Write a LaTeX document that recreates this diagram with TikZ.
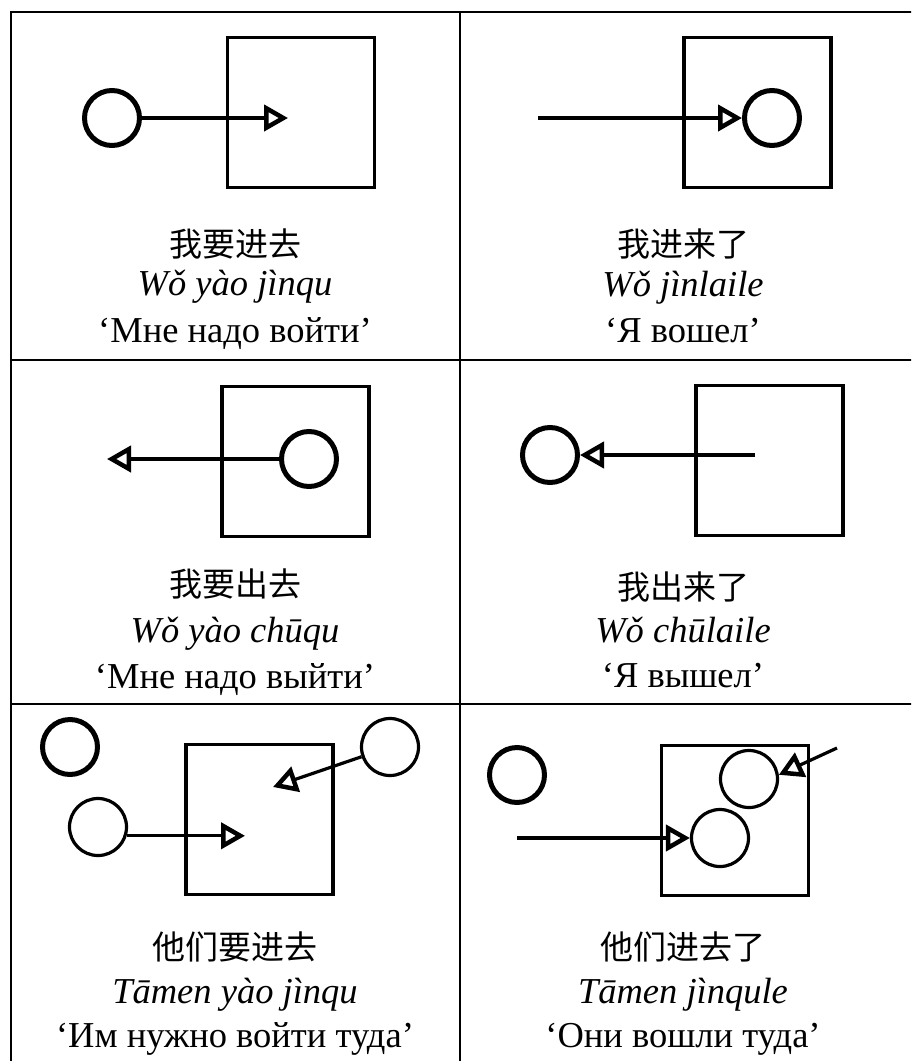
\documentclass[tikz,border=0pt]{standalone}
\usepackage{fontspec}
\setmainfont{Liberation Serif}
\newfontfamily\zhfont{Noto Sans CJK SC}
\usetikzlibrary{arrows.meta}

\begin{document}
\begin{tikzpicture}[x=1pt,y=-1pt,
  grid/.style={line width=2.2pt},
  room/.style={draw, line width=3.2pt, minimum width=147pt, minimum height=150pt, inner sep=0pt},
  man/.style={draw, circle, line width=5pt, minimum size=55pt, inner sep=0pt},
  thinman/.style={draw, circle, line width=3.2pt, minimum size=57pt, inner sep=0pt},
  move/.style={line width=3.2pt, -{Triangle[open, length=24pt, width=26pt, line width=4.5pt]}},
  zh/.style={anchor=base, inner sep=0pt, font=\zhfont\fontsize{33}{38}\selectfont},
  py/.style={anchor=base, inner sep=0pt, font=\itshape\fontsize{36.5}{42}\selectfont},
  ru/.style={anchor=base, inner sep=0pt, font=\fontsize{36.5}{42}\selectfont},
]
\useasboundingbox (0,0) rectangle (911,1061);
\fill[white] (0,0) rectangle (911,1061);
\clip (0,0) rectangle (911,1061);

% table rules
\draw[grid] (11,12) rectangle (925,1075);
\draw[grid] (460,12) -- (460,1075);
\draw[grid] (11,360) -- (925,360);
\draw[grid] (11,704) -- (925,704);

% 1: going in
\node[room] (r1) at (301,112.5) {};
\node[man] (m1) at (112,118) {};
\coordinate (t1) at (288,118);
\draw[move] (m1) -- (t1);
\node[zh] (zh1) at (235,256) {我要进去};
\node[py] (py1) at (235,295) {Wǒ yào jìnqu};
\node[ru] (ru1) at (235,342) {‘Мне надо войти’};

% 2: came in
\node[room] (r2) at (757.5,112.5) {};
\node[man] (m2) at (772,118) {};
\coordinate (s2) at (538,118);
\draw[move] (s2) -- (m2);
\node[zh] (zh2) at (683,256) {我进来了};
\node[py] (py2) at (683,296) {Wǒ jìnlaile};
\node[ru] (ru2) at (683,342) {‘Я вошел’};

% 3: going out
\node[room] (r3) at (295.5,461.5) {};
\node[man] (m3) at (309,459) {};
\coordinate (t3) at (107,459);
\draw[move] (m3) -- (t3);
\node[zh] (zh3) at (235,596) {我要出去};
\node[py] (py3) at (235,642) {Wǒ yào chūqu};
\node[ru] (ru3) at (235,688) {‘Мне надо выйти’};

% 4: came out
\node[room] (r4) at (769.5,460.5) {};
\node[man] (m4) at (550,455) {};
\coordinate (s4) at (755,455);
\draw[move] (s4) -- (m4);
\node[zh] (zh4) at (683,599) {我出来了};
\node[py] (py4) at (683,642) {Wǒ chūlaile};
\node[ru] (ru4) at (683,687) {‘Я вышел’};

% 5: they are going in
\node[room] (r5) at (259.5,819.5) {};
\node[man] (m5a) at (70,747) {};
\node[thinman] (m5b) at (98,827) {};
\node[thinman] (m5c) at (390,747) {};
\coordinate (t5b) at (245,836);
\coordinate (t5c) at (273,787);
\draw[move] (m5b.-17) -- (m5b.-17 -| t5b);
\draw[move] (m5c) -- (t5c);
\node[zh] (zh5) at (235,959) {他们要进去};
\node[py] (py5) at (235,1003) {Tāmen yào jìnqu};
\node[ru] (ru5) at (235,1047) {‘Им нужно войти туда’};

% 6: they went in
\node[room] (r6) at (735,820.5) {};
\node[man] (m6a) at (517,775) {};
\node[thinman] (m6d) at (749,779) {};
\node[thinman] (m6e) at (720,838) {};
\coordinate (s6e) at (517,838);
\coordinate (s6d) at (837,748);
\draw[move] (s6e) -- (m6e);
\draw[move] (s6d) -- (m6d.8);
\node[zh] (zh6) at (683,959) {他们进去了};
\node[py] (py6) at (683,1003) {Tāmen jìnqule};
\node[ru] (ru6) at (683,1047) {‘Они вошли туда’};
\end{tikzpicture}
\end{document}
